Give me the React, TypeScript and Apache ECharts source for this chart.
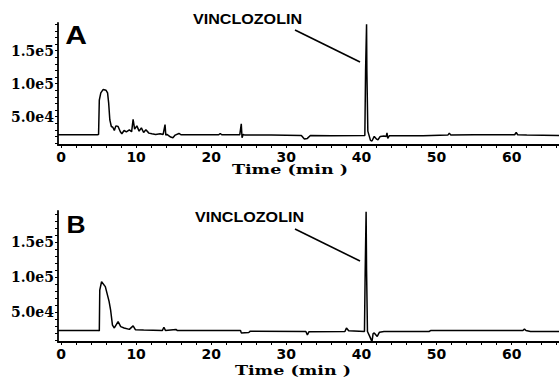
import React, { useEffect, useRef } from "react";
import * as echarts from "echarts";

// Panel A chromatogram (time in min, abundance)
const timeA = [
  -0.4, 4.9, 5.0, 5.1, 5.3, 5.6, 6.0, 6.2, 6.35, 6.5,
  6.7, 6.9, 7.1, 7.3, 7.6, 7.9, 8.1, 8.4, 8.7, 9.1,
  9.4, 9.6, 9.8, 10.1, 10.4, 10.7, 11.0, 11.3, 11.7, 12.1,
  12.6, 13.2, 13.6, 13.85, 13.95, 14.1, 14.6, 14.9, 15.2, 15.7,
  16.0, 18.0, 21.0, 21.2, 21.4, 23.8, 24.0, 24.1, 24.25, 24.5,
  28.0, 32.0, 32.4, 32.8, 33.2, 36.0, 40.45, 40.55, 40.68, 40.72,
  40.85, 41.0, 41.2, 41.4, 41.7, 42.0, 42.2, 42.5, 43.0, 43.3,
  43.4, 43.5, 43.7, 46.0, 48.2, 51.5, 51.7, 51.9, 55.0, 60.4,
  60.6, 60.8, 62.0, 66.3,
];
const signalA = [
  22700, 22700, 23000, 75000, 86000, 91000, 90000, 86000, 70000, 45000,
  35000, 34000, 29000, 36000, 35000, 27000, 24000, 29000, 27000, 30000,
  27000, 46000, 31000, 36000, 28000, 33000, 26000, 30000, 25000, 24000,
  23000, 24000, 23000, 38000, 22000, 23000, 19000, 18000, 22000, 24500,
  22500, 22500, 22500, 24500, 22500, 22500, 39000, 18000, 23000, 22000,
  22000, 21500, 16000, 17000, 21500, 21000, 21500, 120000, 190000, 120000,
  28000, 22000, 14000, 13000, 20000, 16000, 15000, 20000, 20500, 20000,
  25500, 17000, 21000, 21000, 21000, 22000, 25000, 22000, 22500, 22500,
  26000, 22500, 22000, 21500,
];

// Panel B chromatogram
const timeB = [
  -0.4, 5.0, 5.1, 5.16, 5.4, 5.9, 6.4, 6.6, 6.85, 7.1,
  7.6, 7.95, 8.4, 9.1, 9.6, 9.9, 11.0, 13.5, 13.7, 13.9,
  15.3, 15.5, 23.9, 24.0, 25.0, 25.2, 32.6, 32.8, 33.0, 37.8,
  38.0, 38.3, 40.4, 40.5, 40.62, 40.68, 40.8, 41.1, 41.4, 41.55,
  41.7, 42.1, 42.4, 43.0, 49.0, 49.2, 61.5, 61.7, 61.9, 62.5,
  66.3,
];
const signalB = [
  23300, 23300, 23000, 81000, 93000, 86000, 65000, 53000, 31000, 27000,
  36000, 29000, 27000, 25000, 30000, 24500, 24000, 23500, 28000, 23500,
  25000, 23300, 23300, 20000, 20500, 22500, 22000, 17000, 21500, 22000,
  27000, 23000, 22000, 110000, 193000, 110000, 22000, 15000, 7600, 19000,
  20000, 15000, 21000, 22000, 22000, 23300, 23300, 25500, 23300, 22000,
  22000,
];

const xTickLabels = [0, 10, 20, 30, 40, 50, 60];
const xMinorTicks = [0, 2, 4, 6, 8, 10, 12, 14, 16, 18, 20, 22, 24, 26, 28, 30, 32, 34, 36, 38, 40, 42, 44, 46, 48, 50, 52, 54, 56, 58, 60, 62, 64, 66];
const yTickLabels = [50000, 100000, 150000];
const yMinorTicks = [10000, 20000, 30000, 40000, 50000, 60000, 70000, 80000, 90000, 100000, 110000, 120000, 130000, 140000, 150000, 160000, 170000, 180000, 190000];
const panelLabels = ["A", "B"];
const peakName = "VINCLOZOLIN";
const xAxisTitle = "Time (min )";

const fmtY = (v: number) => {
  const e = Math.floor(Math.log10(v) + 1e-9);
  const m = v / Math.pow(10, e);
  return m.toFixed(1) + "e" + e;
};

const makeX = (gi: number) => ({
  type: "value",
  gridIndex: gi,
  min: -0.4,
  max: 66.3,
  axisLine: { show: true, onZero: false, lineStyle: { color: "#000", width: 1.8 } },
  axisTick: { show: true, customValues: xMinorTicks, length: 3, lineStyle: { color: "#000", width: 1 } },
  axisLabel: {
    customValues: xTickLabels,
    color: "#000",
    fontFamily: "DejaVu Sans",
    fontWeight: "bold",
    fontSize: 14,
    margin: 5,
  },
  splitLine: { show: false },
});

const makeY = (gi: number, max: number) => ({
  type: "value",
  gridIndex: gi,
  min: 7000,
  max,
  axisLine: { show: true, onZero: false, lineStyle: { color: "#000", width: 1.8 } },
  axisTick: { show: true, customValues: yMinorTicks, length: 3, lineStyle: { color: "#000", width: 1 } },
  axisLabel: {
    customValues: yTickLabels,
    formatter: (v: number) => fmtY(v),
    color: "#000",
    fontFamily: "DejaVu Serif",
    fontWeight: "bold",
    fontSize: 14,
    margin: 4,
  },
  splitLine: { show: false },
});

const textEl = (text: string, x: number, y: number, font: string, sx: number, align: string) => ({
  type: "text",
  x,
  y,
  scaleX: sx,
  silent: true,
  style: { text, font, fill: "#000", align, verticalAlign: "middle" },
});

export default function App() {
  const ref = useRef<HTMLDivElement>(null);
  useEffect(() => {
    if (!ref.current) return;
    const chart = echarts.init(ref.current, undefined, { renderer: "svg" });
    const dataA = timeA.map((t, i) => [t, signalA[i]]);
    const dataB = timeB.map((t, i) => [t, signalB[i]]);
    chart.setOption({
      animation: false,
      backgroundColor: "#fff",
      grid: [
        { left: 58, right: 0, top: 23, height: 122 },
        { left: 58, right: 0, top: 211, height: 131 },
      ],
      xAxis: [makeX(0), makeX(1)],
      yAxis: [makeY(0, 192000), makeY(1, 194000)],
      series: [
        {
          type: "line",
          xAxisIndex: 0,
          yAxisIndex: 0,
          data: dataA,
          showSymbol: false,
          symbol: "none",
          silent: true,
          lineStyle: { color: "#000", width: 1.5 },
        },
        {
          type: "line",
          xAxisIndex: 1,
          yAxisIndex: 1,
          data: dataB,
          showSymbol: false,
          symbol: "none",
          silent: true,
          lineStyle: { color: "#000", width: 1.5 },
        },
      ],
      graphic: [
        textEl(panelLabels[0], 76, 35, 'bold 25px "Liberation Sans"', 1.2, "center"),
        textEl(panelLabels[1], 76, 224, 'bold 24px "Liberation Sans"', 1.1, "center"),
        textEl(peakName, 193, 19, 'bold 14px "Liberation Sans"', 1.15, "left"),
        textEl(peakName, 195, 217, 'bold 14px "Liberation Sans"', 1.15, "left"),
        textEl(xAxisTitle, 290, 170, 'bold 13px "DejaVu Serif"', 1.35, "center"),
        textEl(xAxisTitle, 293, 371, 'bold 13px "DejaVu Serif"', 1.35, "center"),
        {
          type: "line",
          silent: true,
          shape: { x1: 295, y1: 30, x2: 360, y2: 62 },
          style: { stroke: "#000", lineWidth: 1.6 },
        },
        {
          type: "line",
          silent: true,
          shape: { x1: 295, y1: 229, x2: 360, y2: 261 },
          style: { stroke: "#000", lineWidth: 1.6 },
        },
      ],
    });
    return () => chart.dispose();
  }, []);
  return (
    <div
      ref={ref}
      style={{ position: "fixed", left: 0, top: 0, width: 559, height: 378 }}
    />
  );
}
